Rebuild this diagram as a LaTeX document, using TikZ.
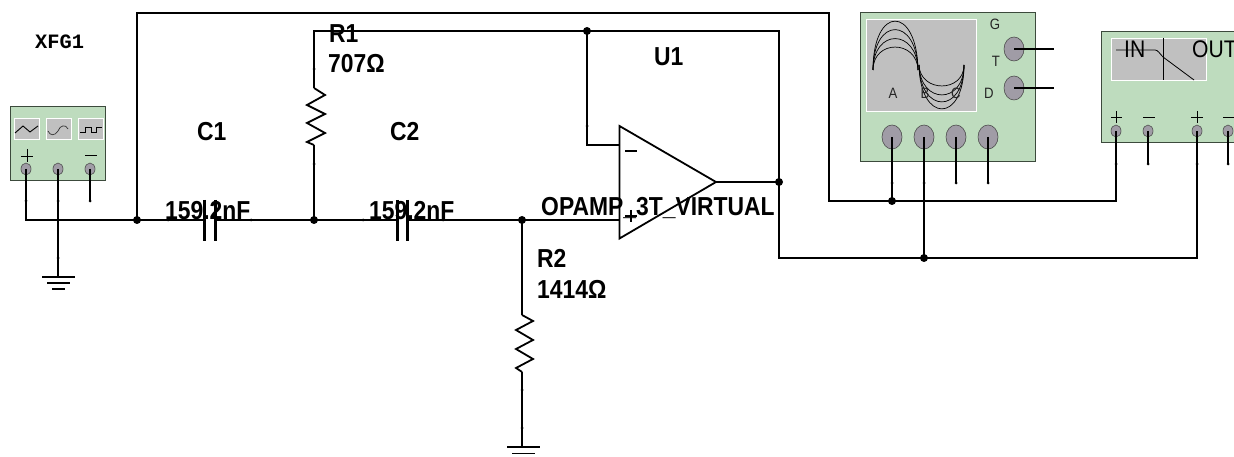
\documentclass[tikz,border=0pt]{standalone}
\usepackage{fontspec}
\setmainfont{Liberation Sans}
\newfontfamily\lblfont[FakeStretch=0.88,BoldFont={Liberation Sans Bold}]{Liberation Sans}
\newfontfamily\xfgfont{Liberation Mono}
\definecolor{panelgreen}{HTML}{BEDCBE}
\definecolor{screengrey}{HTML}{C0C0C0}
\definecolor{termgrey}{HTML}{A09CA6}
\definecolor{boxedge}{HTML}{3C4A3C}
\tikzset{
  wire/.style={line width=1.8pt,black,line join=miter},
  panel/.style={draw=boxedge,line width=1pt,fill=panelgreen},
  screen/.style={draw=white,line width=0.8pt,fill=screengrey},
  dotj/.style={circle,fill=black,inner sep=0pt,minimum size=8pt},
  term/.style={ellipse,draw=black!70,line width=0.6pt,fill=termgrey,inner sep=0pt},
  lab/.style={anchor=base west,inner sep=0pt,font=\lblfont\bfseries\fontsize{26}{26}\selectfont},
  small/.style={anchor=base,inner sep=0pt,font=\lblfont\fontsize{15}{15}\selectfont,text=black!85},
  big/.style={anchor=base west,inner sep=0pt,font=\lblfont\fontsize{24}{24}\selectfont},
}
\usetikzlibrary{shapes.geometric}
\begin{document}
\begin{tikzpicture}[x=1pt,y=-1pt]
\useasboundingbox (0,0) rectangle (1234,457);
\clip (0,0) rectangle (1234,457);
\fill[white] (0,0) rectangle (1234,457);

% junctions and terminals
\coordinate (gp) at (26,169);
\coordinate (gm) at (58,169);
\coordinate (gn) at (90,169);
\coordinate (gnend) at (90,201);
\coordinate (jin) at (137,220);
\coordinate (gnd1) at (58,277);
\coordinate (c1l) at (204,220);
\coordinate (c1r) at (215,220);
\coordinate (jr1) at (314,220);
\coordinate (c2l) at (397,220);
\coordinate (c2r) at (407,220);
\coordinate (jp) at (522,220);
\coordinate (ip) at (619,220);
\coordinate (im) at (619,145);
\coordinate (jfb) at (587,31);
\coordinate (topl) at (314,31);
\coordinate (oa) at (716,182);
\coordinate (jout) at (779,182);
\coordinate (r1t) at (314,88);
\coordinate (r1b) at (314,145);
\coordinate (r2t) at (522,315);
\coordinate (r2b) at (522,372);
\coordinate (gnd2) at (522,447);
\coordinate (sa) at (892,137);
\coordinate (sb) at (924,137);
\coordinate (sc) at (956,137);
\coordinate (sd) at (988,137);
\coordinate (st) at (1014,49);
\coordinate (sg) at (1014,88);
\coordinate (ja) at (892,201);
\coordinate (jb) at (924,258);
\coordinate (fa) at (1116,131);
\coordinate (fb) at (1148,131);
\coordinate (fc) at (1197,131);
\coordinate (fd) at (1228,131);

% instrument panels
\draw[panel] (10,107) rectangle (105,181);
\foreach \x in {14,46,78} \draw[screen] (\x,118) rectangle ++(25,21);
\draw[line width=.9pt] (15,133) -- (23,126) -- (30,132) -- (38,126);
\draw[line width=.7pt,black!80] (48,131) .. controls (50,136) and (55,136) .. (58,131) .. controls (60,125) and (66,124) .. (68,129);
\draw[line width=.9pt] (80,132) -- (85,132) -- (85,127) -- (91,127) -- (91,132) -- (96,132) -- (96,127) -- (102,127);
\draw[line width=.8pt] (21,156) -- (33,156) (27,149) -- (27,162) (85,155) -- (97,155);

\draw[panel] (860,13) rectangle (1035,162);
\draw[screen] (866,19) rectangle (976,111);
\foreach \p in {21,29.5,38.5,47}
  \draw[line width=.7pt] (873,70) .. controls (873,{70-(70-\p)*1.33}) and (917,{70-(70-\p)*1.33}) .. (918,70);
\foreach \p in {86,95,102,109}
  \draw[line width=.7pt] (919,65) .. controls (920,{65+(\p-65)*1.33}) and (964,{65+(\p-65)*1.33}) .. (964,65);

\draw[panel] (1101,32) rectangle (1240,143);
\draw[screen] (1111,38) rectangle (1206,80);
\draw[line width=.7pt] (1163,38) -- (1163,80);
\draw[line width=.8pt] (1116,50) -- (1155,50) .. controls (1158,50) and (1160,54) .. (1163,57) -- (1194,80);
\draw[line width=.7pt] (1111,117) -- (1122,117) (1116.5,111) -- (1116.5,123)
  (1143,117) -- (1155,117) (1191,117) -- (1203,117) (1197,111) -- (1197,123) (1223,117) -- (1236,117);

% terminals
\foreach \n in {gp,gm,gn,fa,fb,fc,fd}
  \node[term,minimum width=10pt,minimum height=12pt] (t\n) at (\n) {};
\foreach \n in {sa,sb,sc,sd,st,sg}
  \node[term,minimum width=20pt,minimum height=24pt] (t\n) at (\n) {};

% wiring
\draw[wire] (gp) -- (26,220) -- (jin) -- (137,13) -- (829,13) -- (829,201) -- (ja) -- (1116,201) -- (fa);
\draw[wire] (gm) -- (gnd1);
\draw[wire] (gn) -- (gnend);
\draw[wire] (jin) -- (c1l) (c1r) -- (jr1) -- (c2l) (c2r) -- (jp) -- (ip);
\draw[wire] (jr1) -- (r1b);
\draw[wire] (r1t) -- (topl) -- (jfb) -- (779,31) -- (jout) -- (779,258) -- (jb) -- (1197,258) -- (fc);
\draw[wire] (jfb) -- (587,145) -- (im);
\draw[wire] (oa) -- (jout);
\draw[wire] (jp) -- (r2t);
\draw[wire] (r2b) -- (gnd2);
\draw[wire] (ja) -- (sa);
\draw[wire] (jb) -- (sb);
\draw[wire] (sc) -- (956,183);
\draw[wire] (sd) -- (988,183);
\draw[wire] (st) -- (1054,49);
\draw[wire] (sg) -- (1054,88);
\draw[wire] (fb) -- (1148,164);
\draw[wire] (fd) -- (1228,164);

% small wire ticks
\foreach \x/\y in {26/201,58/201,90/201,58/258,892/183,924/183,956/183,988/183,1116/164,1148/164,1197/164,1228/164,314/69,314/164,522/390,522/428,168/220,251/220,363/220,443/220,587/126}
  \fill (\x,\y) circle (1.5pt);

% capacitors
\draw[line width=3pt] (c1l) ++(0,-20) -- ++(0,41);
\draw[line width=3pt] (c1r) ++(0,-20) -- ++(0,41);
\draw[line width=3pt] (c2l) ++(0,-20) -- ++(0,41);
\draw[line width=3pt] (c2r) ++(0,-20) -- ++(0,41);

% resistors
\draw[wire] (r1t) -- (325,95) -- (307,105) -- (325,114) -- (307,123) -- (325,133) -- (307,142) -- (r1b);
\draw[wire] (r2t) -- (533,321) -- (516,330) -- (533,340) -- (516,349) -- (533,359) -- (516,368) -- (r2b);

% grounds
\draw[wire] (42,277) -- (75,277) (47,283) -- (70,283);
\draw[line width=2pt] (52,289) -- (65,289);
\draw[wire] (507,447) -- (540,447) (512,453.5) -- (535,453.5);

% op-amp
\draw[line width=1.8pt,line join=miter] (619.5,126) -- (oa) -- (619.5,238.5) -- cycle;
\draw[line width=1.1pt] (625,151) -- (637,151) (625,216) -- (637,216) (631,210) -- (631,222);

% junction dots
\foreach \n in {jin,jr1,jp,jfb,jout,ja,jb}
  \node[dotj] (d\n) at (\n) {};

% labels
\node[anchor=base west,inner sep=0pt,font=\xfgfont\bfseries\fontsize{20.4}{20}\selectfont] (lxfg) at (35,49) {XFG1};
\node[lab] (lc1) at (197,141) {C1};
\node[lab] (lc2) at (390,141) {C2};
\node[lab] (lu1) at (654,66) {U1};
\node[lab] (lr1) at (329,43) {R1};
\node[lab] (lr1v) at (328,73) {707Ω};
\node[lab] (lr2) at (537,267) {R2};
\node[lab] (lr2v) at (537,298) {1414Ω};
\node[lab] (lc1v) at (165,219) {159.2nF};
\node[lab] (lc2v) at (369,219) {159.2nF};
\node[lab] (lop) at (541,215) {OPAMP\_3T\_VIRTUAL};
\node[small] (lg) at (995,30) {G};
\node[small] (lt) at (996,67) {T};
\node[small] (ld) at (989,99) {D};
\node[small] (la) at (893,99) {A};
\node[small] (lb) at (925,99) {B};
\node[small] (lcc) at (956,99) {C};
\node[big] (lin) at (1124,58) {IN};
\node[big] (lout) at (1192,58) {OUT};
\end{tikzpicture}
\end{document}
